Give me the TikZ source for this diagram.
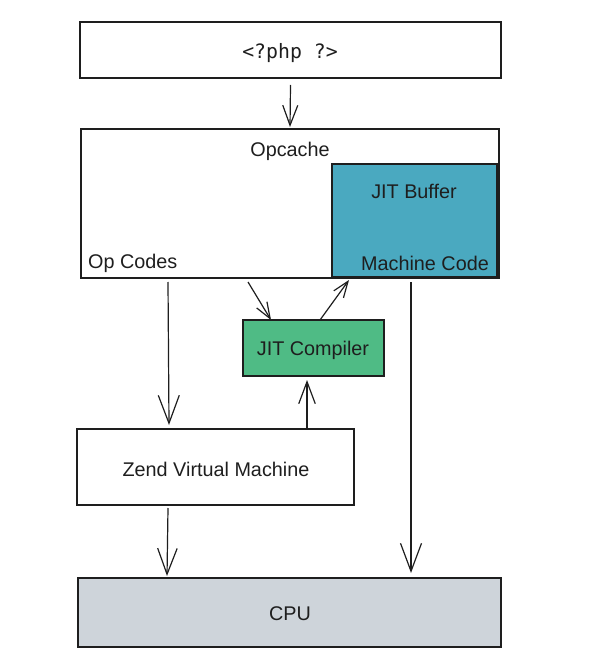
\documentclass[tikz,border=0pt]{standalone}
\usepackage{fontspec}
\setmainfont{Liberation Sans}
\newfontfamily\monofont{DejaVu Sans Mono}
\usetikzlibrary{arrows.meta}
\definecolor{ink}{HTML}{1E1E1E}
\definecolor{teal}{HTML}{4AA9C0}
\definecolor{jitgreen}{HTML}{4FBB85}
\definecolor{cpugray}{HTML}{CED4DA}
\begin{document}
\begin{tikzpicture}[x=1pt,y=-1pt,
  box/.style={draw=ink,line width=1.3pt,minimum width=#1,inner sep=0pt,outer sep=0pt},
  lbl/.style={font=\fontsize{19.8}{23}\selectfont,text=ink,inner sep=0pt},
  conn/.style={draw=ink,line width=1.2pt,-{Straight Barb[length=#1,width=0.75*#1,line width=1.2pt]}},
  conn/.default=22pt]
\useasboundingbox (0,0) rectangle (588,668);
% boxes
\node[box=421pt,minimum height=56pt] (top) at (290.5,50) {};
\node[lbl,font=\monofont\fontsize{19.8}{23}\selectfont] (php) at (290,53.5) {<?php ?>};
\node[box=418pt,minimum height=149pt] (opc) at (290,203.5) {};
\node[lbl] (opct) at (290,151) {Opcache};
\node[lbl,anchor=west] (opcodes) at (88,263.5) {Op Codes};
\node[box=165pt,minimum height=113pt,fill=teal] (buf) at (414.5,220.5) {};
\node[lbl] (buft) at (414,191) {JIT Buffer};
\node[lbl] (mcode) at (425,263.5) {Machine Code};
\node[box=141pt,minimum height=56pt,fill=jitgreen] (jit) at (313.5,348) {};
\node[lbl] (jitt) at (313,350) {JIT Compiler};
\node[box=277pt,minimum height=76pt] (zvm) at (215.5,467) {};
\node[lbl] (zvmt) at (216,469) {Zend Virtual Machine};
\node[box=423pt,minimum height=69pt,fill=cpugray] (cpu) at (289.5,612.5) {};
\node[lbl] (cput) at (290,614) {CPU};
% connectors
\draw[conn=20pt] ([yshift=-7pt]top.south) -- ([yshift=2pt]opc.north);
\draw[conn=28pt] ([xshift=87pt,yshift=-4pt]opc.south west) -- ([xshift=92pt,yshift=4pt]zvm.north west);
\draw[conn=16pt] ([xshift=167pt,yshift=-4pt]opc.south west) -- ([xshift=28pt]jit.north west);
\draw[conn=16pt] ([xshift=77pt]jit.north west) -- ([xshift=17pt,yshift=-3pt]buf.south west);
\draw[conn=28pt] ([xshift=79pt,yshift=-5pt]buf.south west) -- ([xshift=333pt,yshift=5pt]cpu.north west);
\draw[conn=22pt] ([xshift=230pt]zvm.north west) -- ([xshift=64pt,yshift=-4pt]jit.south west);
\draw[conn=26pt] ([xshift=91pt,yshift=-3pt]zvm.south west) -- ([xshift=89pt,yshift=2pt]cpu.north west);
\end{tikzpicture}
\end{document}
